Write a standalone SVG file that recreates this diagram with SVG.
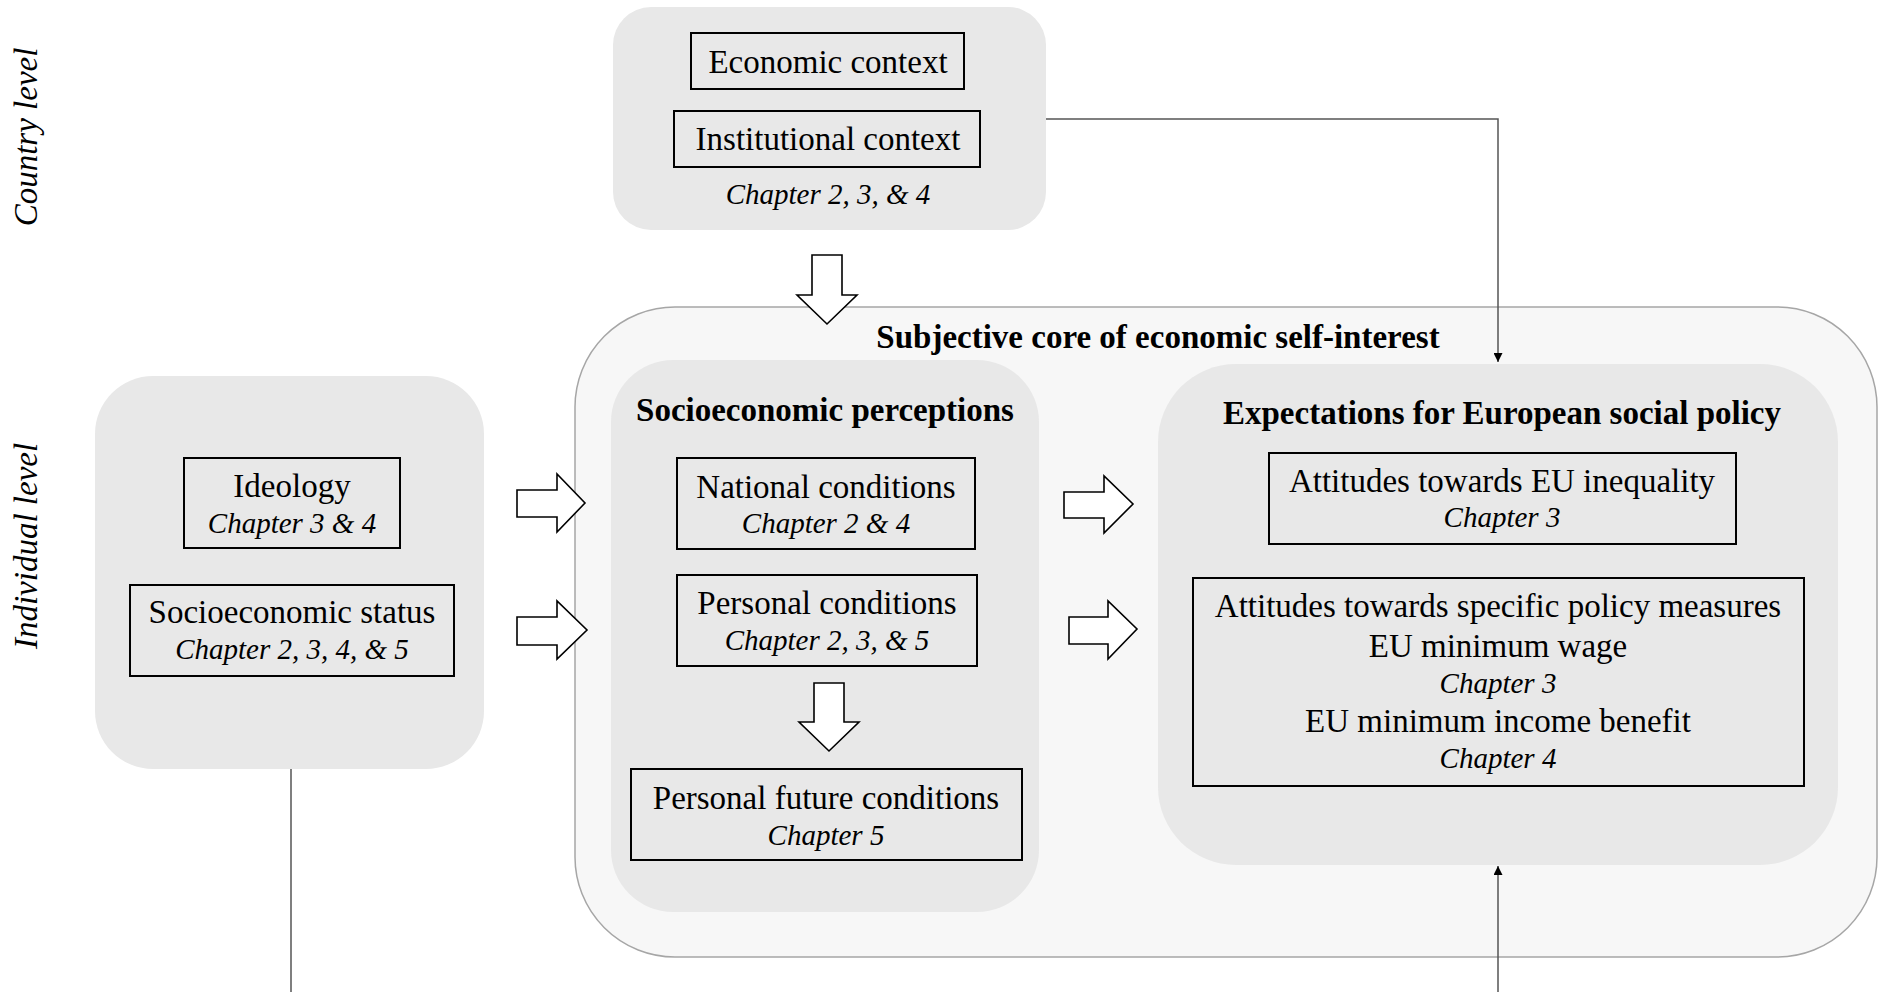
<svg xmlns="http://www.w3.org/2000/svg" width="1878" height="992" viewBox="0 0 1878 992">
<defs>
<style>
.reg{font-family:"Liberation Serif","Times New Roman",serif;font-size:33px;fill:#000;text-anchor:middle}
.ital{font-family:"Liberation Serif","Times New Roman",serif;font-size:29px;font-style:italic;fill:#000;text-anchor:middle}
.bold{font-family:"Liberation Serif","Times New Roman",serif;font-size:33px;font-weight:bold;fill:#000;text-anchor:middle}
.lvl{font-family:"Liberation Serif","Times New Roman",serif;font-size:33px;font-style:italic;fill:#000;text-anchor:middle}
.group{fill:#e8e8e8;stroke:none}
.outer{fill:#f7f7f7;stroke:#a6a6a6;stroke-width:1.5}
.item{fill:none;stroke:#000;stroke-width:2}
.block{fill:#fff;stroke:#000;stroke-width:1.6;stroke-linejoin:miter}
.conn{fill:none;stroke:#555;stroke-width:1.5}
</style>
<marker id="ah" viewBox="0 0 10 10" refX="10" refY="5" markerWidth="9" markerHeight="9" markerUnits="userSpaceOnUse" orient="auto">
<path d="M0,0 L10,5 L0,10 Z" fill="#000"/>
</marker>
</defs>
<rect width="1878" height="992" fill="#fff"/>

<g id="level-labels">
<text class="lvl" transform="translate(37,137) rotate(-90)">Country level</text>
<text class="lvl" transform="translate(37,546) rotate(-90)">Individual level</text>
</g>

<g id="subjective-core">
<rect class="outer" x="575" y="307" width="1302" height="650" rx="100" ry="100"/>
<text class="bold" x="1158" y="348">Subjective core of economic self-interest</text>
</g>

<g id="country-context">
<rect class="group" x="613" y="7" width="433" height="223" rx="38" ry="38"/>
<rect class="item" x="691" y="33" width="273" height="56"/>
<text class="reg" x="828" y="73">Economic context</text>
<rect class="item" x="674" y="111" width="306" height="56"/>
<text class="reg" x="828" y="150">Institutional context</text>
<text class="ital" x="828" y="204">Chapter 2, 3, &amp; 4</text>
</g>

<g id="individual-factors">
<rect class="group" x="95" y="376" width="389" height="393" rx="58" ry="58"/>
<rect class="item" x="184" y="458" width="216" height="90"/>
<text class="reg" x="292" y="497">Ideology</text>
<text class="ital" x="292" y="533">Chapter 3 &amp; 4</text>
<rect class="item" x="130" y="585" width="324" height="91"/>
<text class="reg" x="292" y="623">Socioeconomic status</text>
<text class="ital" x="292" y="659">Chapter 2, 3, 4, &amp; 5</text>
</g>

<g id="socioeconomic-perceptions">
<rect class="group" x="611" y="360" width="428" height="552" rx="62" ry="62"/>
<text class="bold" x="825" y="421">Socioeconomic perceptions</text>
<rect class="item" x="677" y="458" width="298" height="91"/>
<text class="reg" x="826" y="498">National conditions</text>
<text class="ital" x="826" y="533">Chapter 2 &amp; 4</text>
<rect class="item" x="677" y="575" width="300" height="91"/>
<text class="reg" x="827" y="614">Personal conditions</text>
<text class="ital" x="827" y="650">Chapter 2, 3, &amp; 5</text>
<rect class="item" x="631" y="769" width="391" height="91"/>
<text class="reg" x="826" y="809">Personal future conditions</text>
<text class="ital" x="826" y="845">Chapter 5</text>
</g>

<g id="expectations">
<rect class="group" x="1158" y="364" width="680" height="501" rx="78" ry="78"/>
<text class="bold" x="1502" y="424">Expectations for European social policy</text>
<rect class="item" x="1269" y="453" width="467" height="91"/>
<text class="reg" x="1502" y="492">Attitudes towards EU inequality</text>
<text class="ital" x="1502" y="527">Chapter 3</text>
<rect class="item" x="1193" y="578" width="611" height="208"/>
<text class="reg" x="1498" y="617">Attitudes towards specific policy measures</text>
<text class="reg" x="1498" y="657">EU minimum wage</text>
<text class="ital" x="1498" y="693">Chapter 3</text>
<text class="reg" x="1498" y="732">EU minimum income benefit</text>
<text class="ital" x="1498" y="768">Chapter 4</text>
</g>

<g id="connectors">
<polygon class="block" points="812,255 842,255 842,295 857,295 827,324 797,295 812,295"/>
<polygon class="block" points="814,683 844,683 844,722 859,722 829,751 799,722 814,722"/>
<polygon class="block" points="517,490 557,490 557,474 585,503 557,532 557,517 517,517"/>
<polygon class="block" points="517,617 557,617 557,601 587,630 557,659 557,645 517,645"/>
<polygon class="block" points="1064,492 1104,492 1104,476 1133,504 1104,533 1104,518 1064,518"/>
<polygon class="block" points="1069,617 1108,617 1108,601 1137,629 1108,659 1108,644 1069,644"/>
<path class="conn" d="M1046,119 H1498 V362" marker-end="url(#ah)"/>
<path class="conn" d="M291,769 V992"/>
<path class="conn" d="M1498,992 V866" marker-end="url(#ah)"/>
</g>
</svg>
